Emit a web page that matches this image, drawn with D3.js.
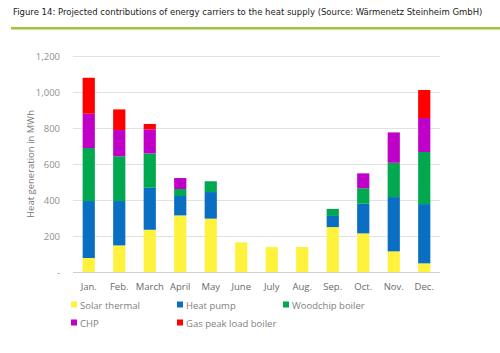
<!DOCTYPE html>
<html>
<head>
<meta charset="utf-8">
<script src="https://cdn.jsdelivr.net/npm/d3@7"></script>
<style>
  body { margin: 0; background: #fff; }
  svg { display: block; font-family: "Open Sans", "Noto Sans", sans-serif; }
</style>
</head>
<body>
<script>
// data (MWh)
var months = ['Jan.', 'Feb.', 'March', 'April', 'May', 'June', 'July', 'Aug.', 'Sep.', 'Oct.', 'Nov.', 'Dec.'];
var seriesNames = ['Solar thermal', 'Heat pump', 'Woodchip boiler', 'CHP', 'Gas peak load boiler'];
var solar    = [78, 148, 235, 315, 297, 165, 139, 139, 250, 215, 115, 48];
var heatPump = [317, 247, 234, 108, 148, 0, 0, 0, 62, 165, 302, 330];
var woodchip = [295, 249, 191, 39, 60, 0, 0, 0, 39, 86, 191, 290];
var chp      = [191, 146, 134, 61, 0, 0, 0, 0, 0, 83, 169, 189];
var gas      = [200, 115, 30, 0, 0, 0, 0, 0, 0, 0, 0, 156];
var yTicks = [0, 200, 400, 600, 800, 1000, 1200];

var colors = ['#fff23c', '#0a6fc2', '#00a84f', '#c000c8', '#ff0000'];

var W = 500, H = 353;
var svg = d3.select('body').append('svg').attr('width', W).attr('height', H);

// title + green rule
var titleText = 'Figure 14: Projected contributions of energy carriers to the heat supply (Source: Wärmenetz Steinheim GmbH)';
var title = svg.append('text')
  .attr('x', 13).attr('y', 15)
  .attr('font-family', '"Liberation Sans Narrow", "DejaVu Sans Condensed", sans-serif')
  .attr('font-size', 10).attr('fill', '#222')
  .text(titleText);
// spread the narrow font out to the reference width with real letter spacing
var natural = title.node().getComputedTextLength();
var spacing = (470 - natural) / titleText.length;
if (spacing < 0) {
  title.attr('font-size', 10 * 470 / natural);
} else {
  title.attr('letter-spacing', spacing.toFixed(3) + 'px');
}
svg.append('rect').attr('x', 11).attr('y', 27).attr('width', 489).attr('height', 2.5).attr('fill', '#9cc63b');

// table for the stack
var table = months.map(function(m, i) {
  return { month: m, s0: solar[i], s1: heatPump[i], s2: woodchip[i], s3: chp[i], s4: gas[i] };
});
var stack = d3.stack().keys(['s0', 's1', 's2', 's3', 's4'])(table);

var x = d3.scaleBand().domain(months).range([73.5, 439.5]).paddingInner(0.6).paddingOuter(0.3);
var y = d3.scaleLinear().domain([0, 1200]).range([272, 56.4]);

// gridlines
svg.append('g').selectAll('line').data(yTicks).enter().append('line')
  .attr('x1', 73).attr('x2', 440)
  .attr('y1', function(d) { return Math.round(y(d)) + 0.5; })
  .attr('y2', function(d) { return Math.round(y(d)) + 0.5; })
  .attr('stroke', function(d) { return d === 0 ? '#cfcfcf' : '#e2e2e2'; })
  .attr('stroke-width', 1);

// y tick labels
svg.append('g').selectAll('text').data(yTicks).enter().append('text')
  .attr('x', 60).attr('y', function(d) { return y(d) + 3.5; })
  .attr('text-anchor', 'end').attr('font-size', 9.5).attr('fill', '#8f8f8f')
  .text(function(d) { return d === 0 ? '-' : d3.format(',')(d); });

// y title
svg.append('text')
  .attr('transform', 'translate(34,164) rotate(-90)')
  .attr('text-anchor', 'middle').attr('font-size', 9.5).attr('fill', '#777')
  .text('Heat generation in MWh');

// bars
svg.append('g').selectAll('g').data(stack).enter().append('g')
  .attr('fill', function(d, i) { return colors[i]; })
  .selectAll('rect').data(function(d) { return d; }).enter().append('rect')
  .attr('x', function(d) { return x(d.data.month); })
  .attr('width', x.bandwidth())
  .attr('y', function(d) { return y(d[1]); })
  .attr('height', function(d) { return y(d[0]) - y(d[1]); });

// x labels
svg.append('g').selectAll('text').data(months).enter().append('text')
  .attr('x', function(d) { return x(d) + x.bandwidth() / 2; })
  .attr('y', 290)
  .attr('text-anchor', 'middle').attr('font-size', 9.5).attr('fill', '#6a6a6a')
  .text(function(d) { return d; });

// legend
var legX = [71, 177, 283];
var leg = svg.append('g').selectAll('g').data(seriesNames).enter().append('g')
  .attr('transform', function(d, i) {
    return 'translate(' + legX[i % 3] + ',' + (i < 3 ? 305 : 323) + ')';
  });
leg.append('rect').attr('x', 0).attr('y', -3.5).attr('width', 6).attr('height', 6)
  .attr('fill', function(d, i) { return colors[i]; });
leg.append('text').attr('x', 9).attr('y', 3.5)
  .attr('font-size', 9.5).attr('fill', '#808080')
  .text(function(d) { return d; });
</script>
</body>
</html>
